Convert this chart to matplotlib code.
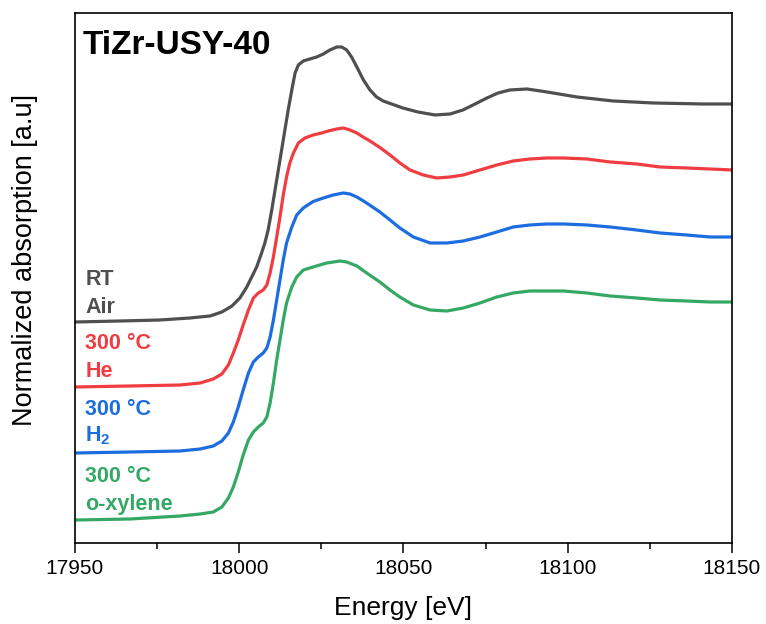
import matplotlib
matplotlib.use("Agg")
import matplotlib.pyplot as plt
from matplotlib.ticker import MultipleLocator

plt.rcParams['font.family'] = ['Liberation Sans', 'DejaVu Sans']
plt.rcParams['mathtext.fontset'] = 'custom'
plt.rcParams['mathtext.rm'] = 'Liberation Sans'
plt.rcParams['mathtext.bf'] = 'Liberation Sans:bold'

# --- data (energy in eV, normalized absorption with vertical offsets) ---
e_air = [17950.0, 17963.7, 17975.9, 17985.0, 17991.1, 17994.7, 17997.8, 18000.2, 18002.3,
         18003.8, 18005.3, 18006.8, 18007.8, 18008.8, 18009.9, 18010.9, 18011.9, 18012.9,
         18013.9, 18014.9, 18016.0, 18017.0, 18018.0, 18019.5, 18021.5, 18023.6, 18025.6,
         18027.6, 18029.7, 18031.2, 18032.7, 18034.2, 18035.8, 18037.8, 18039.8, 18041.8,
         18043.8, 18046.8, 18049.8, 18054.4, 18059.6, 18064.2, 18068.1, 18071.8, 18075.4,
         18078.8, 18082.4, 18087.6, 18093.7, 18102.8, 18113.8, 18126.0, 18141.2, 18150.0]
mu_air = [2.21, 2.22, 2.23, 2.25, 2.27, 2.31, 2.37, 2.45, 2.56,
          2.66, 2.76, 2.90, 3.00, 3.13, 3.33, 3.53, 3.73, 3.93,
          4.13, 4.33, 4.53, 4.70, 4.78, 4.82, 4.84, 4.86, 4.89,
          4.93, 4.96, 4.96, 4.93, 4.86, 4.76, 4.63, 4.53, 4.46,
          4.42, 4.385, 4.35, 4.31, 4.28, 4.29, 4.33, 4.39, 4.45,
          4.50, 4.53, 4.54, 4.51, 4.46, 4.42, 4.40, 4.39, 4.39]

e_he = [17950.0, 17966.7, 17982.0, 17988.1, 17992.1, 17994.7, 17996.7, 17998.2, 17999.7,
        18001.2, 18002.8, 18004.3, 18005.8, 18007.3, 18008.4, 18009.4, 18010.4, 18011.4,
        18012.4, 18013.4, 18014.4, 18015.4, 18016.5, 18018.0, 18020.0, 18022.5, 18025.1,
        18027.1, 18029.7, 18031.7, 18033.7, 18035.8, 18037.7, 18039.8, 18042.8, 18045.9,
        18048.9, 18052.0, 18056.0, 18060.1, 18064.2, 18068.2, 18073.3, 18078.4, 18083.4,
        18088.5, 18093.6, 18098.6, 18105.8, 18112.9, 18121.0, 18128.1, 18136.2, 18143.3, 18150.0]
mu_he = [1.56, 1.57, 1.58, 1.60, 1.64, 1.69, 1.78, 1.90, 2.03,
         2.18, 2.33, 2.45, 2.50, 2.53, 2.58, 2.70, 2.86, 3.06,
         3.26, 3.48, 3.66, 3.80, 3.90, 4.00, 4.05, 4.08, 4.10,
         4.12, 4.14, 4.15, 4.13, 4.10, 4.06, 4.02, 3.955, 3.88,
         3.80, 3.73, 3.68, 3.65, 3.66, 3.68, 3.73, 3.78, 3.82,
         3.84, 3.85, 3.85, 3.84, 3.81, 3.79, 3.76, 3.75, 3.74, 3.73]

e_h2 = [17950.0, 17966.7, 17982.0, 17988.1, 17992.1, 17994.7, 17996.7, 17998.2, 17999.7,
        18001.2, 18002.8, 18004.3, 18005.8, 18007.3, 18008.4, 18009.4, 18010.4, 18011.4,
        18012.4, 18013.4, 18014.4, 18016.0, 18017.5, 18019.5, 18022.5, 18025.6, 18028.6,
        18031.7, 18033.7, 18035.8, 18038.3, 18040.8, 18042.8, 18045.9, 18048.9, 18053.0,
        18058.1, 18063.2, 18068.2, 18073.3, 18078.4, 18083.4, 18088.5, 18093.6, 18098.6,
        18105.8, 18112.9, 18121.0, 18128.1, 18136.2, 18143.3, 18150.0]
mu_h2 = [0.90, 0.91, 0.92, 0.94, 0.97, 1.02, 1.10, 1.21, 1.36,
         1.53, 1.70, 1.81, 1.86, 1.90, 1.95, 2.06, 2.23, 2.43,
         2.63, 2.83, 3.00, 3.16, 3.28, 3.35, 3.415, 3.45, 3.48,
         3.50, 3.49, 3.46, 3.41, 3.355, 3.31, 3.23, 3.15, 3.06,
         3.00, 3.00, 3.02, 3.06, 3.11, 3.16, 3.18, 3.19, 3.19,
         3.18, 3.16, 3.13, 3.10, 3.08, 3.06, 3.06]

e_xyl = [17950.0, 17966.7, 17982.0, 17988.1, 17992.1, 17994.7, 17996.7, 17998.2, 17999.7,
         18001.2, 18002.8, 18004.3, 18005.8, 18007.3, 18008.4, 18009.4, 18010.4, 18011.4,
         18012.4, 18013.4, 18014.4, 18016.0, 18017.5, 18019.5, 18022.5, 18026.6, 18030.7,
         18032.7, 18035.8, 18038.8, 18042.8, 18045.9, 18048.9, 18053.0, 18058.1, 18063.2,
         18068.2, 18073.3, 18078.4, 18083.4, 18088.5, 18093.6, 18098.6, 18105.8, 18112.9,
         18121.0, 18128.1, 18136.2, 18143.3, 18150.0]
mu_xyl = [0.23, 0.24, 0.27, 0.29, 0.31, 0.36, 0.45, 0.56, 0.71,
          0.88, 1.03, 1.11, 1.16, 1.20, 1.26, 1.40, 1.60, 1.83,
          2.03, 2.23, 2.40, 2.56, 2.66, 2.73, 2.76, 2.80, 2.82,
          2.81, 2.77, 2.70, 2.61, 2.53, 2.46, 2.38, 2.33, 2.32,
          2.35, 2.40, 2.46, 2.50, 2.52, 2.52, 2.52, 2.50, 2.47,
          2.45, 2.43, 2.42, 2.41, 2.41]

labels = [['RT', 'Air'], ['300 °C', 'He'], ['300 °C', 'H$_\\mathbf{2}$'], ['300 °C', 'o-xylene']]
colors = ['#4f4f4f', '#ef3d42', '#1c6de0', '#35a865']
label_y = [[0.487, 0.434], [0.366, 0.313], [0.242, 0.191], [0.115, 0.062]]  # axes fraction baselines

fig = plt.figure(figsize=(7.66, 6.24), dpi=100)
ax = fig.add_axes([0.0979, 0.1298, 0.9556 - 0.0979, 0.9792 - 0.1298])

for (e, mu), c, lab, ly in zip([(e_air, mu_air), (e_he, mu_he), (e_h2, mu_h2), (e_xyl, mu_xyl)],
                               colors, labels, label_y):
    ax.plot(e, mu, color=c, lw=2.3, solid_joinstyle='round')
    for txt, yy in zip(lab, ly):
        ax.text(0.0155, yy, txt, transform=ax.transAxes, color=c, fontsize=15.5,
                fontweight='bold', ha='left', va='baseline')

ax.set_xlim(17950, 18150)
ax.set_ylim(0, 5.30)
ax.xaxis.set_major_locator(MultipleLocator(50))
ax.xaxis.set_minor_locator(MultipleLocator(25))
ax.set_yticks([])
ax.tick_params(axis='x', which='major', direction='out', length=7.5, width=1.1,
               labelsize=15, pad=4, top=False)
ax.tick_params(axis='x', which='minor', direction='out', length=4, width=1.1, top=False)
for s in ax.spines.values():
    s.set_linewidth(1.2)

ax.set_xlabel('Energy [eV]', fontsize=19, labelpad=13)
ax.set_ylabel('Normalized absorption [a.u]', fontsize=19.5)
ax.yaxis.set_label_coords(-0.057, 0.534)
ax.text(0.0122, 0.9226, 'TiZr-USY-40', transform=ax.transAxes, fontsize=24,
        fontweight='bold', ha='left', va='baseline')

fig.savefig('out.png', dpi=100)
